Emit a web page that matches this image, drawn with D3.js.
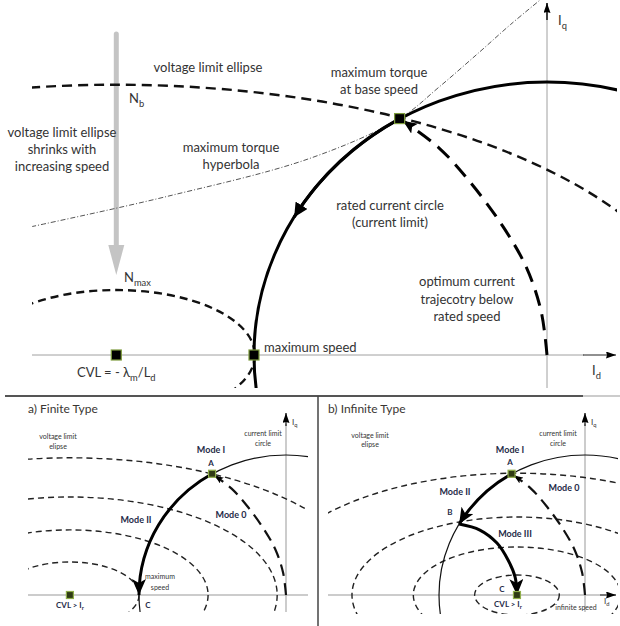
<!DOCTYPE html>
<html>
<head>
<meta charset="utf-8">
<script src="https://cdnjs.cloudflare.com/ajax/libs/d3/7.8.5/d3.min.js"></script>
<style>
  body { margin: 0; background: #fff; }
  svg { display: block; }
  text { font-family: Lato, "Open Sans", sans-serif; }
</style>
</head>
<body>
<div id="chart"></div>
<script>
// Current / voltage limits of a PM machine in the (Id, Iq) plane.
// Values are per-unit of rated current: the current limit circle has radius 1.

// --- top panel ---
const topCvl = -1.47;                 // centre of the voltage ellipses, -λm/Ld
const topEllipses = [
  { name: "Nb",   a: 2.02,  b: 0.99 },
  { name: "Nmax", a: 0.473, b: 0.238 }
];
const torqueHyperbola = [
  [-1.76, 0.47], [-1.30, 0.58], [-0.81, 0.72], [-0.503, 0.866],
  [-0.37, 0.98], [-0.23, 1.11], [-0.125, 1.21], [-0.024, 1.30]
];
const mtpaTrajectory = [
  [0, 0], [-0.02, 0.16], [-0.07, 0.32], [-0.15, 0.47],
  [-0.26, 0.63], [-0.37, 0.76], [-0.503, 0.866]
];
const pointA = [-0.503, 0.866];       // maximum torque at base speed
const pointMaxSpeed = [-1, 0];
const circleArrowAt = [-0.863, 0.505];

// --- a) finite type ---
const finiteCvl = -1.47;
const finiteEllipses = [
  { a: 2.06, b: 0.98 }, { a: 1.41, b: 0.70 }, { a: 0.94, b: 0.465 }, { a: 0.47, b: 0.236 }
];
const finitePointC = [-1, 0];

// --- b) infinite type ---
const infiniteCvl = -0.466;
const infiniteEllipses = [
  { a: 1.75, b: 0.87 }, { a: 1.13, b: 0.557 }, { a: 0.71, b: 0.343 }, { a: 0.29, b: 0.143 }
];
const pointB = [-0.862, 0.507];
const mtpvTrajectory = [
  [-0.862, 0.507], [-0.72, 0.464], [-0.603, 0.371], [-0.527, 0.25], [-0.479, 0.129], [-0.466, 0]
];

const svg = d3.select("#chart").append("svg")
    .attr("width", 620)
    .attr("height", 626);
const defs = svg.append("defs");

// arrow heads, tip sits `gap` px before the end of the path
function addMarker(id, w, h, notch, gap, color) {
    defs.append("marker")
        .attr("id", id)
        .attr("viewBox", `0 0 ${w} ${h}`)
        .attr("markerUnits", "userSpaceOnUse")
        .attr("markerWidth", w)
        .attr("markerHeight", h)
        .attr("refX", w + gap)
        .attr("refY", h / 2)
        .attr("orient", "auto")
        .append("path")
        .attr("d", `M0,0L${w},${h / 2}L0,${h}L${notch},${h / 2}Z`)
        .attr("fill", color || "#000");
}
addMarker("arrowBig", 16, 14, 4, 0);
addMarker("arrowMtpa", 14, 12, 3, 4);
addMarker("arrowAxis", 10, 7, 1, 0);
addMarker("arrowSmall", 9, 7, 2, 3);
addMarker("arrowMid", 14, 14, 0, 0);

function addClip(id, x0, y0, x1, y1) {
    defs.append("clipPath").attr("id", id)
        .append("rect")
        .attr("x", x0).attr("y", y0)
        .attr("width", x1 - x0).attr("height", y1 - y0);
}

function ellipse(g, x, y, cx, a, b) {
    return g.append("ellipse")
        .attr("cx", x(cx))
        .attr("cy", y(0))
        .attr("rx", x(cx + a) - x(cx))
        .attr("ry", y(0) - y(b))
        .attr("fill", "none");
}

// arc of the unit current circle, drawn counter-clockwise on screen
function circleArc(x, y, from, to) {
    const rx = x(0) - x(-1), ry = y(0) - y(1);
    return `M${x(from[0])},${y(from[1])}A${rx},${ry} 0 0 0 ${x(to[0])},${y(to[1])}`;
}

function square(g, x, y, p, size, fill, stroke) {
    g.append("rect")
        .attr("x", x(p[0]) - size / 2)
        .attr("y", y(p[1]) - size / 2)
        .attr("width", size)
        .attr("height", size)
        .attr("fill", fill)
        .attr("stroke", stroke)
        .attr("stroke-width", 1.2);
}

function label(g, x, y, lines, size, opts = {}) {
    const t = g.append("text")
        .attr("x", x)
        .attr("y", y)
        .attr("text-anchor", opts.anchor || "middle")
        .attr("font-size", size + "px")
        .attr("font-weight", opts.weight || "normal")
        .attr("fill", opts.color || "#333");
    [].concat(lines).forEach((line, i) => {
        t.append("tspan")
            .attr("x", x)
            .attr("dy", i === 0 ? 0 : (opts.lh || size * 1.35))
            .text(line);
    });
    return t;
}

// text with subscript parts: parts = [[text, isSub], ...]
function subLabel(g, x, y, parts, size, opts = {}) {
    const t = g.append("text")
        .attr("x", x)
        .attr("y", y)
        .attr("text-anchor", opts.anchor || "start")
        .attr("font-size", size + "px")
        .attr("font-weight", opts.weight || "normal")
        .attr("fill", opts.color || "#333");
    let shifted = false;
    parts.forEach(([txt, isSub]) => {
        const s = t.append("tspan").text(txt);
        if (isSub && !shifted) { s.attr("dy", size * 0.3).attr("font-size", (size * 0.72) + "px"); shifted = true; }
        else if (isSub) { s.attr("font-size", (size * 0.72) + "px"); }
        else if (shifted) { s.attr("dy", -size * 0.3); shifted = false; }
    });
    return t;
}

const line = (x, y) => d3.line()
    .x(d => x(d[0]))
    .y(d => y(d[1]))
    .curve(d3.curveCatmullRom.alpha(0.5));

// ============ TOP PANEL ============
const xT = d3.scaleLinear().domain([-1, 0]).range([254, 547]);
const yT = d3.scaleLinear().domain([0, 1]).range([355, 82]);
addClip("clipTop", 32, 0, 617, 388);

const gTop = svg.append("g");

// axes
gTop.append("line")
    .attr("x1", 32).attr("x2", 584)
    .attr("y1", yT(0)).attr("y2", yT(0))
    .attr("stroke", "#a0a0a0").attr("stroke-width", 1);
gTop.append("line")
    .attr("x1", 583).attr("x2", 616)
    .attr("y1", yT(0)).attr("y2", yT(0))
    .attr("stroke", "#222").attr("stroke-width", 1.2)
    .attr("marker-end", "url(#arrowAxis)");
gTop.append("line")
    .attr("x1", xT(0)).attr("x2", xT(0))
    .attr("y1", 388).attr("y2", 20)
    .attr("stroke", "#a0a0a0").attr("stroke-width", 1);
gTop.append("line")
    .attr("x1", xT(0)).attr("x2", xT(0))
    .attr("y1", 20).attr("y2", 3)
    .attr("stroke", "#111").attr("stroke-width", 1.6)
    .attr("marker-end", "url(#arrowAxis)");

// grey "shrinking" arrow
gTop.append("line")
    .attr("x1", xT(topCvl)).attr("x2", xT(topCvl))
    .attr("y1", 34).attr("y2", 248)
    .attr("stroke", "#c4c4c4").attr("stroke-width", 5)
    .attr("stroke-linecap", "round");
gTop.append("path")
    .attr("d", `M${xT(topCvl) - 8},245L${xT(topCvl) + 8},245L${xT(topCvl)},275Z`)
    .attr("fill", "#c4c4c4");

const gTopClip = gTop.append("g").attr("clip-path", "url(#clipTop)");

// maximum torque hyperbola
gTopClip.append("path")
    .attr("d", line(xT, yT)(torqueHyperbola))
    .attr("fill", "none")
    .attr("stroke", "#555")
    .attr("stroke-width", 1)
    .attr("stroke-dasharray", "5,2,1,2");

// voltage limit ellipses
topEllipses.forEach((e, i) => {
    ellipse(gTopClip, xT, yT, topCvl, e.a, e.b)
        .attr("stroke", "#111")
        .attr("stroke-width", 2.4)
        .attr("stroke-dasharray", i === 0 ? "10,6" : "8,5");
});

// rated current circle
ellipse(gTopClip, xT, yT, 0, 1, 1)
    .attr("stroke", "#000")
    .attr("stroke-width", 3);
gTopClip.append("path")
    .attr("d", circleArc(xT, yT, pointA, circleArrowAt))
    .attr("fill", "none")
    .attr("stroke", "#000")
    .attr("stroke-width", 3)
    .attr("marker-end", "url(#arrowMid)");

// optimum current trajectory (MTPA)
gTopClip.append("path")
    .attr("d", line(xT, yT)(mtpaTrajectory))
    .attr("fill", "none")
    .attr("stroke", "#000")
    .attr("stroke-width", 3)
    .attr("stroke-dasharray", "16,9")
    .attr("marker-end", "url(#arrowMtpa)");

// key points
square(gTop, xT, yT, [topCvl, 0], 10, "#000", "#7d9b3c");
square(gTop, xT, yT, pointMaxSpeed, 10, "#000", "#7d9b3c");
square(gTop, xT, yT, pointA, 10, "#000", "#7d9b3c");

// annotations
label(gTop, 208, 72, "voltage limit ellipse", 13);
subLabel(gTop, 129, 103, [["N"], ["b", true]], 13);
label(gTop, 62, 137, ["voltage limit ellipse", "shrinks with", "increasing speed"], 13, { lh: 17 });
label(gTop, 231, 152, ["maximum torque", "hyperbola"], 13, { lh: 17 });
label(gTop, 379, 77, ["maximum torque", "at base speed"], 13, { lh: 17 });
label(gTop, 390, 210, ["rated current circle", "(current limit)"], 13, { lh: 17 });
label(gTop, 467, 286, ["optimum current", "trajecotry below", "rated speed"], 13, { lh: 17.5 });
label(gTop, 264, 352, "maximum speed", 13, { anchor: "start" });
subLabel(gTop, xT(topCvl), 377, [["CVL = - λ"], ["m", true], ["/L"], ["d", true]], 13, { anchor: "middle" });
subLabel(gTop, 124, 282, [["N"], ["max", true]], 13);
subLabel(gTop, 558, 25, [["I"], ["q", true]], 13);
subLabel(gTop, 592, 375, [["I"], ["d", true]], 13);

// panel separators
svg.append("line")
    .attr("x1", 5).attr("x2", 583).attr("y1", 396).attr("y2", 396)
    .attr("stroke", "#555").attr("stroke-width", 2);
svg.append("line")
    .attr("x1", 583).attr("x2", 620).attr("y1", 396).attr("y2", 396)
    .attr("stroke", "#bbb").attr("stroke-width", 1.5);
svg.append("line")
    .attr("x1", 318).attr("x2", 318).attr("y1", 396).attr("y2", 626)
    .attr("stroke", "#444").attr("stroke-width", 1.5);

// ============ BOTTOM PANELS ============
const navy = "#1f2b48";

function bottomPanel(cfg) {
    const { x, y, clipId, clip, cvl, ellipses } = cfg;
    addClip(clipId, clip[0], clip[1], clip[2], clip[3]);
    const g = svg.append("g");

    // axes
    g.append("line")
        .attr("x1", clip[0]).attr("x2", cfg.idEnd)
        .attr("y1", y(0)).attr("y2", y(0))
        .attr("stroke", "#999").attr("stroke-width", 1);
    if (cfg.idArrow) {
        g.append("line")
            .attr("x1", cfg.idEnd - 16).attr("x2", cfg.idEnd)
            .attr("y1", y(0)).attr("y2", y(0))
            .attr("stroke", "#222").attr("stroke-width", 1)
            .attr("marker-end", "url(#arrowAxis)");
    }
    g.append("line")
        .attr("x1", x(0)).attr("x2", x(0))
        .attr("y1", 612).attr("y2", 424)
        .attr("stroke", "#999").attr("stroke-width", 1);
    g.append("line")
        .attr("x1", x(0)).attr("x2", x(0))
        .attr("y1", 426).attr("y2", 413)
        .attr("stroke", "#111").attr("stroke-width", 1.2)
        .attr("marker-end", "url(#arrowAxis)");

    const gc = g.append("g").attr("clip-path", `url(#${clipId})`);

    ellipses.forEach(e => {
        ellipse(gc, x, y, cvl, e.a, e.b)
            .attr("stroke", "#222")
            .attr("stroke-width", 1.4)
            .attr("stroke-dasharray", "6,4");
    });

    // current limit circle
    ellipse(gc, x, y, 0, 1, 1)
        .attr("stroke", "#111")
        .attr("stroke-width", 1.2);

    // MTPA
    gc.append("path")
        .attr("d", line(x, y)(mtpaTrajectory))
        .attr("fill", "none")
        .attr("stroke", "#111")
        .attr("stroke-width", 2.2)
        .attr("stroke-dasharray", "12,7")
        .attr("marker-end", "url(#arrowSmall)");

    return { g, gc };
}

// ---- a) finite type ----
const xA = d3.scaleLinear().domain([-1, 0]).range([139, 286]);
const yA = d3.scaleLinear().domain([0, 1]).range([595, 455]);
const pa = bottomPanel({
    x: xA, y: yA, clipId: "clipA", clip: [28, 415, 308, 612],
    cvl: finiteCvl, ellipses: finiteEllipses, idEnd: 308, idArrow: false
});
pa.gc.append("path")
    .attr("d", circleArc(xA, yA, pointA, finitePointC))
    .attr("fill", "none")
    .attr("stroke", "#000")
    .attr("stroke-width", 3)
    .attr("marker-end", "url(#arrowBig)");
square(pa.g, xA, yA, pointA, 7, "#2f3a14", "#8fae4a");
square(pa.g, xA, yA, [finiteCvl, 0], 7, "#2f3a14", "#8fae4a");

label(pa.g, 28, 413, "a) Finite Type", 12, { anchor: "start", color: "#3a3633" });
subLabel(pa.g, 292, 425, [["I"], ["q", true]], 8);
label(pa.g, 58, 439, ["voltage limit", "elipse"], 7, { lh: 10 });
label(pa.g, 263, 436, ["current limit", "circle"], 7, { lh: 10 });
label(pa.g, 211, 453, "Mode I", 9, { weight: "bold", color: navy });
label(pa.g, 211, 466, "A", 8, { weight: "bold", color: navy });
label(pa.g, 136, 523, "Mode II", 9, { weight: "bold", color: navy });
label(pa.g, 231, 518, "Mode 0", 9, { weight: "bold", color: navy });
label(pa.g, 160, 579, ["maximum", "speed"], 7, { lh: 11 });
label(pa.g, 148, 608, "C", 8, { weight: "bold", color: navy });
subLabel(pa.g, 70, 608, [["CVL > I"], ["r", true]], 8, { anchor: "middle", weight: "bold", color: navy });

// ---- b) infinite type ----
const xB = d3.scaleLinear().domain([-1, 0]).range([439, 585]);
const yB = d3.scaleLinear().domain([0, 1]).range([595, 455]);
const pb = bottomPanel({
    x: xB, y: yB, clipId: "clipB", clip: [328, 415, 618, 614],
    cvl: infiniteCvl, ellipses: infiniteEllipses, idEnd: 616, idArrow: true
});
pb.gc.append("path")
    .attr("d", circleArc(xB, yB, pointA, pointB))
    .attr("fill", "none")
    .attr("stroke", "#000")
    .attr("stroke-width", 3)
    .attr("marker-end", "url(#arrowBig)");
pb.gc.append("path")
    .attr("d", line(xB, yB)(mtpvTrajectory))
    .attr("fill", "none")
    .attr("stroke", "#000")
    .attr("stroke-width", 3)
    .attr("marker-end", "url(#arrowBig)");
square(pb.g, xB, yB, pointA, 7, "#2f3a14", "#8fae4a");
square(pb.g, xB, yB, [infiniteCvl, 0], 7, "#2f3a14", "#8fae4a");

label(pb.g, 328, 413, "b) Infinite Type", 12, { anchor: "start", color: "#3a3633" });
subLabel(pb.g, 591, 425, [["I"], ["q", true]], 8);
label(pb.g, 370, 438, ["voltage limit", "elipse"], 7, { lh: 9 });
label(pb.g, 558, 436, ["current limit", "circle"], 7, { lh: 10 });
label(pb.g, 510, 453, "Mode I", 9, { weight: "bold", color: navy });
label(pb.g, 510, 465, "A", 8, { weight: "bold", color: navy });
label(pb.g, 455, 495, "Mode II", 9, { weight: "bold", color: navy });
label(pb.g, 564, 491, "Mode 0", 9, { weight: "bold", color: navy });
label(pb.g, 450, 515, "B", 8, { weight: "bold", color: navy });
label(pb.g, 515, 537, "Mode III", 9, { weight: "bold", color: navy });
label(pb.g, 502, 592, "C", 8, { weight: "bold", color: navy });
subLabel(pb.g, 508, 607, [["CVL > I"], ["r", true]], 8, { anchor: "middle", weight: "bold", color: navy });
label(pb.g, 576, 610, "infinite speed", 7);
subLabel(pb.g, 604, 604, [["I"], ["d", true]], 8);
</script>
</body>
</html>
